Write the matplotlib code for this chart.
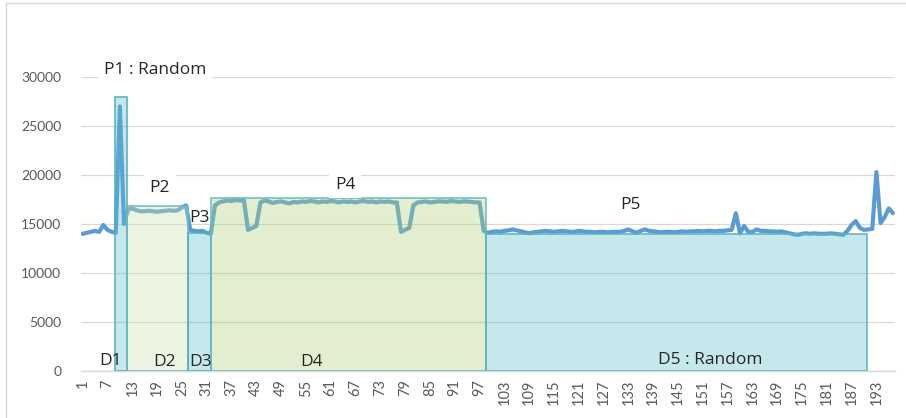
import matplotlib
matplotlib.use("Agg")
import matplotlib.pyplot as plt
from matplotlib.patches import Rectangle
from matplotlib.lines import Line2D
import numpy as np

plt.rcParams['font.family'] = ['Lato', 'DejaVu Sans']

# ---- measured series (one value per sample index 1..197) ----
seg_start = [14000, 14100, 14200, 14300, 14200, 14900, 14400, 14200, 14100]          # 1-9
seg_p1 = [27000, 15000]                                                               # 10-11
seg_p2 = [16500, 16600, 16400, 16300, 16300, 16350, 16300, 16250, 16300, 16350,
          16400, 16350, 16400, 16700, 16900]                                          # 12-26
seg_p3 = [14400, 14300, 14250, 14300, 14100, 14000]                                   # 27-32
seg_p4 = [16900, 17200, 17300, 17400, 17350, 17450, 17400, 17400,                     # 33-40
          14400, 14600, 14800,                                                        # 41-43
          17200, 17400, 17300, 17150, 17250, 17300, 17200, 17100, 17250, 17200,       # 44-53
          17300, 17250, 17350, 17300, 17200, 17300, 17250, 17350, 17300, 17200,       # 54-63
          17300, 17250, 17300, 17200, 17300, 17350, 17250, 17300, 17200, 17300,       # 64-73
          17250, 17300, 17200,                                                        # 74-76
          17200, 14200, 14400, 14600,                                                 # 77-80
          16900, 17200, 17250, 17300, 17200, 17250, 17300, 17300, 17250, 17350,       # 81-90
          17300, 17250, 17300, 17300, 17250, 17200, 17200, 14300]                     # 91-98
seg_p5 = [14100, 14200, 14250, 14200, 14300, 14350, 14450, 14350, 14250, 14150,       # 99-108
          14050, 14150, 14200, 14250, 14300, 14250, 14200, 14250, 14300, 14250,       # 109-118
          14200, 14200, 14300, 14250, 14200, 14200, 14150, 14200, 14200, 14150,       # 119-128
          14200, 14200, 14200, 14300, 14450, 14250, 14100, 14300, 14450, 14300,       # 129-138
          14250, 14200, 14150, 14200, 14200, 14150, 14200, 14250, 14200, 14250,       # 139-148
          14250, 14300, 14250, 14300, 14300, 14250, 14300, 14300, 14350, 14400,       # 149-158
          16100, 14050, 14800, 14200, 14200, 14450, 14300, 14300, 14250, 14250,       # 159-168
          14200, 14250, 14150, 14050, 13950, 13900, 14000, 14050, 14000, 14050,       # 169-178
          14000, 14000, 14000, 14050, 14000, 13950, 13900, 14300, 14900, 15300,       # 179-188
          14600, 14400]                                                               # 189-190
seg_end = [14450, 14500, 20300, 15100, 15700, 16600, 16100]                           # 191-197

values = np.array(seg_start + seg_p1 + seg_p2 + seg_p3 + seg_p4 + seg_p5 + seg_end)
index = np.arange(1, len(values) + 1)

# ---- phase boxes ----
box_left = [8.8, 11.8, 26.4, 32.1, 98.6]
box_right = [11.8, 26.4, 32.1, 98.6, 190.8]
box_top = [28000, 16800, 14100, 17700, 14000]
box_face = ['#5cbdc9', '#cee2a9', '#5cbdc9', '#acd176', '#5cbdc9']
box_edge = ['#4fb0ba', '#66bcc0', '#4fb0ba', '#66bcc0', '#5ab3bb']

phase_labels = ['P1 : Random', 'P2', 'P3', 'P4', 'P5']
phase_x = [18.5, 19.7, 29.2, 64.5, 133.4]
phase_y = [30700, 18700, 15600, 19000, 16950]
phase_box = [True, True, False, True, False]

dur_labels = ['D1', 'D2', 'D3', 'D4', 'D5 : Random']
dur_x = [7.8, 20.7, 29.6, 56.4, 152.8]
dur_y = [1050, 950, 950, 950, 1150]

y_ticks = [0, 5000, 10000, 15000, 20000, 25000, 30000]
x_ticks = list(range(1, 198, 6))

fig = plt.figure(figsize=(9.06, 4.18), dpi=100)
ax = fig.add_axes([80.6 / 906, 47 / 418, 814.4 / 906, 294 / 418])

ax.set_xlim(0.5, len(values) + 0.5)
ax.set_ylim(0, 30000)

ax.set_yticks(y_ticks)
ax.set_yticklabels([str(v) for v in y_ticks], fontsize=10, color='#595959')
ax.set_xticks(x_ticks)
ax.set_xticklabels([str(v) for v in x_ticks], fontsize=10.5, color='#595959', rotation=90)
ax.tick_params(axis='x', length=0, pad=6)
ax.tick_params(axis='y', length=0, pad=14)

for s in ['top', 'right', 'left']:
    ax.spines[s].set_visible(False)
ax.spines['bottom'].set_color('#d9d9d9')
ax.spines['bottom'].set_linewidth(1.0)
ax.spines['bottom'].set_zorder(1)

ax.grid(axis='y', color='#d9d9d9', linewidth=0.9, zorder=0)
ax.set_axisbelow(True)

ax.plot(index, values, color='#5b9bd5', linewidth=3.0, zorder=2,
        solid_joinstyle='round', solid_capstyle='round')

for l, r, t, fc, ec in zip(box_left, box_right, box_top, box_face, box_edge):
    ax.add_patch(Rectangle((l, 0), r - l, t, facecolor=fc, edgecolor='none',
                           alpha=0.35, zorder=3))
    ax.add_patch(Rectangle((l, 0), r - l, t, facecolor='none', edgecolor=ec,
                           linewidth=1.3, alpha=0.85, zorder=3.2))

label_font = ['Open Sans', 'DejaVu Sans']
for lab, x, y, boxed in zip(phase_labels, phase_x, phase_y, phase_box):
    kw = {}
    if boxed:
        kw['bbox'] = dict(facecolor='white', edgecolor='none', pad=4)
    ax.text(x, y, lab, ha='center', va='center', fontsize=12.5, color='#262626',
            family=label_font, zorder=4, clip_on=False, **kw)

for lab, x, y in zip(dur_labels, dur_x, dur_y):
    ax.text(x, y, lab, ha='center', va='center', fontsize=12.5, color='#262626',
            family=label_font, zorder=4)

# light chart-area frame
fig.add_artist(Line2D([6 / 906, 6 / 906], [0, 1 - 3 / 418], color='#d9d9d9', linewidth=1.0))
fig.add_artist(Line2D([6 / 906, 1], [1 - 3 / 418, 1 - 3 / 418], color='#d9d9d9', linewidth=1.0))

fig.savefig('out.png', dpi=100)
